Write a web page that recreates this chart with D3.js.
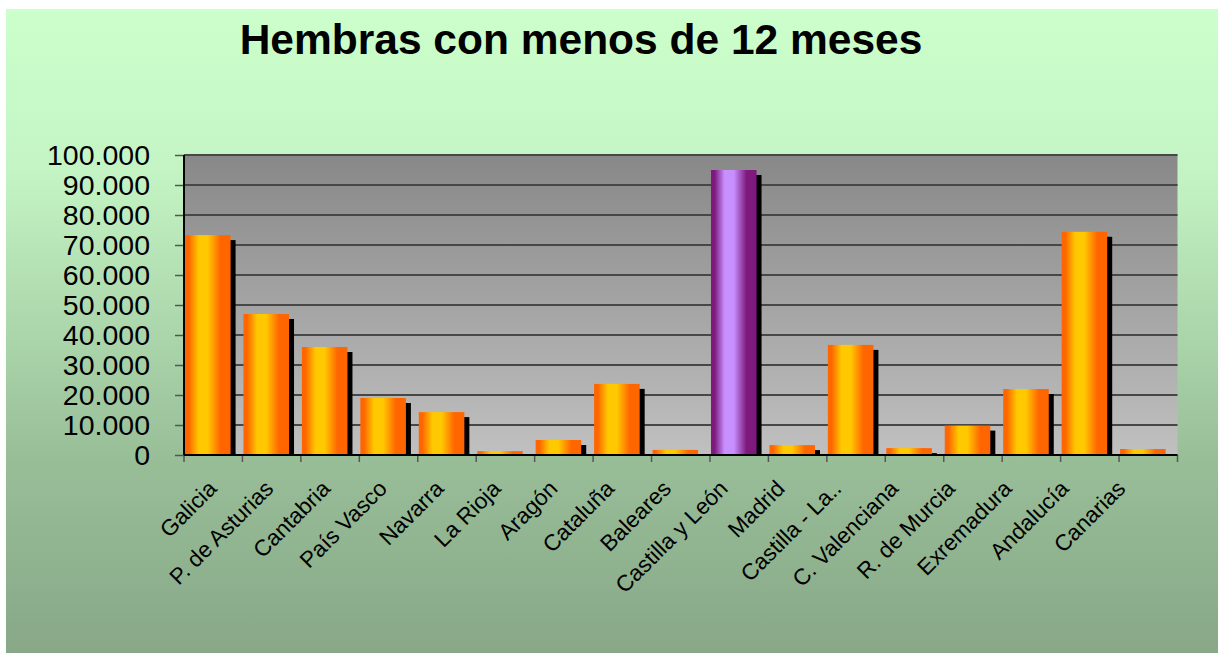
<!DOCTYPE html>
<html>
<head>
<meta charset="utf-8">
<script src="https://cdn.jsdelivr.net/npm/d3@7"></script>
<style>
  html, body { margin: 0; padding: 0; background: #ffffff; }
  svg { display: block; }
  text { font-family: Arial, "Liberation Sans", sans-serif; fill: #000; }
</style>
</head>
<body>
<svg id="chart" width="1218" height="653"></svg>
<script>
// Hembras con menos de 12 meses, por comunidad autónoma
const categories = [
  "Galicia", "P. de Asturias", "Cantabria", "País Vasco", "Navarra", "La Rioja",
  "Aragón", "Cataluña", "Baleares", "Castilla y León", "Madrid", "Castilla - La..",
  "C. Valenciana", "R. de Murcia", "Exremadura", "Andalucía", "Canarias"
];
const values = [
  73300, 47000, 36000, 19000, 14300, 1300,
  5000, 23700, 1700, 95000, 3300, 36700,
  2300, 9800, 22000, 74400, 2000
];
const highlighted = ["Castilla y León"];
const yTicks = [0, 10000, 20000, 30000, 40000, 50000, 60000, 70000, 80000, 90000, 100000];
const title = "Hembras con menos de 12 meses";

const W = 1218, H = 653;
const plot = { left: 184, top: 155, right: 1177.5, bottom: 455 };

const svg = d3.select("#chart");
const defs = svg.append("defs");

// Background: pale green fading to sage
const bg = defs.append("linearGradient").attr("id", "bgGrad")
  .attr("x1", 0).attr("y1", 0).attr("x2", 0).attr("y2", 1);
[[0, "#ccffcc"], [0.25, "#c4f4c4"], [0.7, "#98be98"], [1, "#88a888"]]
  .forEach(([o, c]) => bg.append("stop").attr("offset", o).attr("stop-color", c));

// Plot area: dark grey at top, light grey at the base
const pg = defs.append("linearGradient").attr("id", "plotGrad")
  .attr("x1", 0).attr("y1", 0).attr("x2", 0).attr("y2", 1);
[[0, "#888888"], [1, "#c0c0c0"]]
  .forEach(([o, c]) => pg.append("stop").attr("offset", o).attr("stop-color", c));

// Cylinder-like horizontal shading for the bars
function barGradient(id, edge, mid) {
  const g = defs.append("linearGradient").attr("id", id)
    .attr("x1", 0).attr("y1", 0).attr("x2", 1).attr("y2", 0);
  [[0, edge], [0.08, edge], [0.3, mid], [0.5, mid], [0.78, edge], [1, edge]]
    .forEach(([o, c]) => g.append("stop").attr("offset", o).attr("stop-color", c));
}
barGradient("orangeGrad", "#ff6600", "#ffc800");
barGradient("purpleGrad", "#7e1a7e", "#c890ff");

defs.append("clipPath").attr("id", "plotClip")
  .append("rect")
  .attr("x", plot.left).attr("y", plot.top)
  .attr("width", plot.right - plot.left).attr("height", plot.bottom - plot.top);

svg.append("rect").attr("x", 6).attr("y", 9).attr("width", W - 6).attr("height", H - 9)
  .attr("fill", "url(#bgGrad)");

const x = d3.scaleBand().domain(categories).range([plot.left, plot.right]).padding(0);
const y = d3.scaleLinear().domain([0, 100000]).range([plot.bottom, plot.top]);

svg.append("rect")
  .attr("x", plot.left).attr("y", plot.top)
  .attr("width", plot.right - plot.left).attr("height", plot.bottom - plot.top)
  .attr("fill", "url(#plotGrad)");

// Horizontal gridlines
svg.append("g").selectAll("line").data(yTicks.filter(t => t > 0)).join("line")
  .attr("x1", plot.left).attr("x2", plot.right)
  .attr("y1", d => y(d)).attr("y2", d => y(d))
  .attr("stroke", "#474747").attr("stroke-width", 2);

// Bars with drop shadows
const data = categories.map((c, i) => ({ c, v: values[i] }));
const barW = x.bandwidth() * 0.78;
const bars = svg.append("g").attr("clip-path", "url(#plotClip)");
bars.selectAll("rect.shadow").data(data).join("rect").attr("class", "shadow")
  .attr("x", d => x(d.c) + 1 + 5).attr("y", d => y(d.v) + 5)
  .attr("width", barW).attr("height", d => y(0) - y(d.v))
  .attr("fill", "#000");
bars.selectAll("rect.bar").data(data).join("rect").attr("class", "bar")
  .attr("x", d => x(d.c) + 1).attr("y", d => y(d.v))
  .attr("width", barW).attr("height", d => y(0) - y(d.v))
  .attr("fill", d => highlighted.includes(d.c) ? "url(#purpleGrad)" : "url(#orangeGrad)");

// Y axis
const fmt = d3.formatLocale({ decimal: ",", thousands: ".", grouping: [3], currency: ["", " €"] }).format(",");
const yAxis = svg.append("g").attr("transform", `translate(${plot.left},0)`)
  .call(d3.axisLeft(y).tickValues(yTicks).tickFormat(fmt).tickSize(9).tickPadding(25));
yAxis.select(".domain").remove();
yAxis.selectAll(".tick line").attr("stroke", "#555").attr("stroke-width", 1.5);
yAxis.selectAll(".tick text").style("font-size", "28.5px").style("font-family", "Arial, 'Liberation Sans', sans-serif").attr("fill", "#000");

svg.append("line").attr("x1", plot.left).attr("x2", plot.left)
  .attr("y1", plot.top).attr("y2", plot.bottom)
  .attr("stroke", "#000").attr("stroke-width", 2);

// X axis: ticks at category boundaries
const bounds = categories.map(c => x(c)).concat([plot.right]);
svg.append("g").selectAll("line").data(bounds).join("line")
  .attr("x1", d => d).attr("x2", d => d)
  .attr("y1", plot.bottom).attr("y2", plot.bottom + 7)
  .attr("stroke", "#555").attr("stroke-width", 1.5);
svg.append("line").attr("x1", plot.left).attr("x2", plot.right)
  .attr("y1", plot.bottom).attr("y2", plot.bottom)
  .attr("stroke", "#000").attr("stroke-width", 2);

// Rotated category labels
const xl = d3.scalePoint().domain(categories).range([218, 218 + 56.8 * (categories.length - 1)]);
svg.append("g").selectAll("text").data(categories).join("text")
  .attr("transform", d => `translate(${xl(d)},490) rotate(-45)`)
  .attr("text-anchor", "end")
  .style("font-size", "22.5px")
  .text(d => d);

// Title
svg.append("text").attr("x", 581).attr("y", 54).attr("text-anchor", "middle")
  .style("font-size", "42.5px").style("font-weight", "bold")
  .text(title);
</script>
</body>
</html>
